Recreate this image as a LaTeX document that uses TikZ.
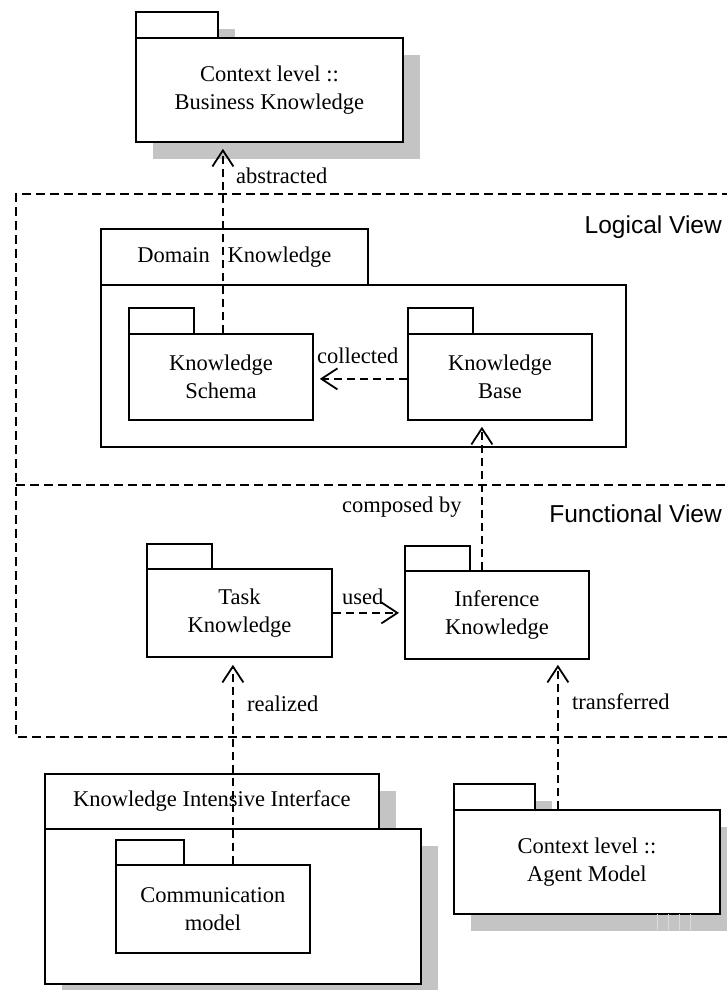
\documentclass[tikz,border=0pt]{standalone}
\usepackage{fontspec}
\setmainfont{Liberation Serif}
\newfontfamily\viewfont{Liberation Sans}
\usetikzlibrary{arrows.meta,shadows}
\definecolor{shadowc}{RGB}{196,196,196}
\begin{document}
\begin{tikzpicture}[x=1pt,y=-1pt,
  pkgtab/.style={draw, line width=1.8pt, fill=white, anchor=north west,
    inner sep=0pt, align=center, font=\fontsize{22.5}{27.5}\selectfont},
  pkgbody/.style={draw, line width=1.8pt, fill=white, anchor=north west,
    inner sep=0pt, align=center, font=\fontsize{22.5}{27.5}\selectfont},
  shade/.style={drop shadow={shadow xshift=17pt, shadow yshift=-17pt,
    fill=shadowc, opacity=1}},
  dep/.style={line width=1.8pt, dash pattern=on 8pt off 5pt,
    -{Straight Barb[length=16pt, width=21pt, line width=1.8pt]}},
  lbl/.style={inner sep=0pt, font=\fontsize{22.5}{27.5}\selectfont},
  viewlbl/.style={inner sep=0pt, anchor=base east, font=\viewfont\fontsize{24.5}{29}\selectfont},
  frame/.style={line width=1.8pt, dash pattern=on 9pt off 5pt}
]
\useasboundingbox (0,0) rectangle (727,990);

% view frames
\draw[frame] (745,194) -- (16,194) -- (16,737) -- (745,737);
\draw[frame] (16,485) -- (745,485);
\node[viewlbl] (logical) at (722,233) {Logical View};
\node[viewlbl] (functional) at (722,522) {Functional View};

% Context level :: Business Knowledge
\node[pkgtab, shade, minimum width=82pt, minimum height=26pt] (bktab) at (135,11) {};
\node[pkgbody, shade, minimum width=267pt, minimum height=104pt] (bk) at (135,37)
  {Context level ::\\Business Knowledge};

% Domain Knowledge
\node[pkgtab, minimum width=267pt, minimum height=56pt] (dktab) at (100,228)
  {Domain\hspace{12pt} Knowledge};
\node[pkgbody, minimum width=525pt, minimum height=162pt] (dk) at (100,284) {};

\node[pkgtab, minimum width=65pt, minimum height=26pt] (kstab) at (128,307) {};
\node[pkgbody, minimum width=184pt, minimum height=86pt] (ks) at (128,333)
  {Knowledge\\Schema};
\node[pkgtab, minimum width=65pt, minimum height=26pt] (kbtab) at (407,307) {};
\node[pkgbody, minimum width=184pt, minimum height=86pt] (kb) at (407,333)
  {Knowledge\\Base};

% Task and Inference Knowledge
\node[pkgtab, minimum width=65pt, minimum height=25pt] (tasktab) at (146,543) {};
\node[pkgbody, minimum width=185pt, minimum height=88pt] (task) at (146,568)
  {Task\\Knowledge};
\node[pkgtab, minimum width=65pt, minimum height=25pt] (inftab) at (404,545) {};
\node[pkgbody, minimum width=184pt, minimum height=88pt] (inf) at (404,570)
  {Inference\\Knowledge};

% Knowledge Intensive Interface
\node[pkgtab, shade, minimum width=334pt, minimum height=55pt] (kiitab) at (44,773)
  {Knowledge Intensive Interface};
\node[pkgbody, shade, minimum width=376pt, minimum height=155pt] (kii) at (44,828) {};
\node[pkgtab, minimum width=68pt, minimum height=25pt] (commtab) at (115,839) {};
\node[pkgbody, minimum width=194pt, minimum height=88pt] (comm) at (115,864)
  {Communication\\model};

% Context level :: Agent Model
\node[pkgtab, shade, minimum width=81pt, minimum height=26pt] (agtab) at (453,783) {};
\node[pkgbody, shade, minimum width=266pt, minimum height=104pt] (ag) at (453,809)
  {Context level ::\\Agent Model};
\foreach \x in {657,668,679,690}
  \draw[line width=0.6pt, black!14] (\x,914) -- (\x,930);

% dependencies
\draw[dep, shorten >=6pt] ([xshift=2pt]ks.north) -- ([xshift=2pt]ks.north |- bk.south);
\node[lbl, anchor=base west] (labs) at (236,183) {abstracted};

\draw[dep, shorten >=6pt] ([yshift=-2pt]kb.west) -- ([yshift=-2pt]kb.west -| ks.east);
\node[lbl, anchor=base west] (lcol) at (317,363) {collected};

\draw[dep, shorten >=6pt] ([xshift=-15pt]inf.north) -- ([xshift=-15pt]inf.north |- kb.south);
\node[lbl, anchor=base west] (lcomp) at (342,512) {composed by};

\draw[dep, shorten >=5pt] (task.east) -- (task.east -| inf.west);
\node[lbl, anchor=base west] (lused) at (342,604) {used};

\draw[dep, shorten >=7pt] ([xshift=20pt]comm.north) -- ([xshift=20pt]comm.north |- task.south);
\node[lbl, anchor=base west] (lreal) at (247,711) {realized};

\draw[dep, shorten >=5pt] ([xshift=-29pt]ag.north) -- ([xshift=-29pt]ag.north |- inf.south);
\node[lbl, anchor=base west] (ltrans) at (572,709) {transferred};
\end{tikzpicture}
\end{document}
